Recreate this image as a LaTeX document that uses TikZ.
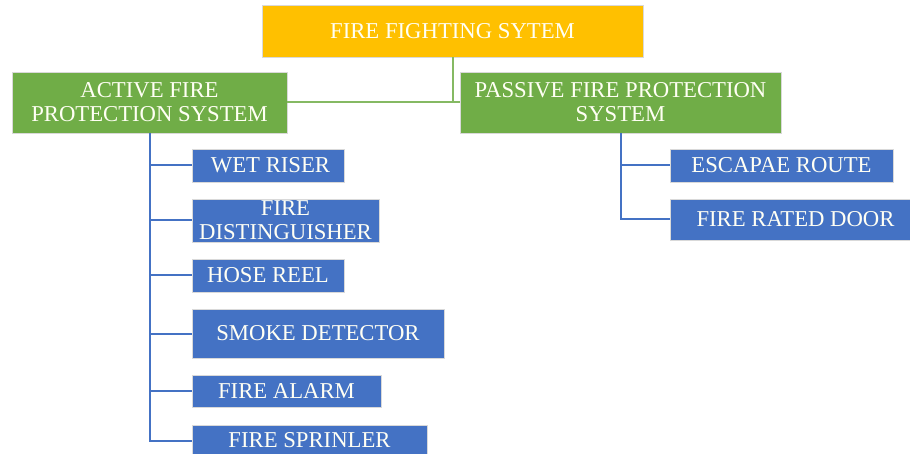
\documentclass[tikz,border=0pt]{standalone}
\usepackage{fontspec}
\setmainfont{Liberation Serif}
\definecolor{hdrgold}{HTML}{FFC000}
\definecolor{grpgreen}{HTML}{70AD47}
\definecolor{itemblue}{HTML}{4472C4}
\definecolor{txtwhite}{HTML}{FFFFF4}
\tikzset{
  box/.style={draw=white!85!black, line width=0.6pt, inner sep=0pt, align=center,
    text=txtwhite, font=\fontsize{22.7}{24}\selectfont},
  headbox/.style={box, fill=hdrgold},
  groupbox/.style={box, fill=grpgreen},
  itembox/.style={box, fill=itemblue},
  greenlink/.style={draw=grpgreen!85!white, line width=2pt},
  bluelink/.style={draw=itemblue, line width=2pt},
}
\begin{document}
\begin{tikzpicture}[x=1pt, y=-1pt]
\useasboundingbox (0,0) rectangle (910,454);
\clip (0,0) rectangle (910,454);
\fill[white] (0,0) rectangle (910,454);

% top level
\node[headbox, minimum width=381pt, minimum height=52pt] (top) at (452.5,31) {FIRE FIGHTING SYTEM};

% the two groups
\node[groupbox, minimum width=275pt, minimum height=61pt] (active) at (149.5,102.5) {ACTIVE FIRE\\PROTECTION SYSTEM};
\node[groupbox, minimum width=321pt, minimum height=61pt] (passive) at (620.5,102.5) {PASSIVE FIRE PROTECTION\\SYSTEM};

% active items
\node[itembox, minimum width=152pt, minimum height=33pt] (wet) at (268,165.5) {\hspace{5pt}WET RISER};
\node[itembox, minimum width=187pt, minimum height=43pt] (dist) at (285.5,220.5) {FIRE\\DISTINGUISHER};
\node[itembox, minimum width=152pt, minimum height=33pt] (hose) at (268,275.5) {HOSE REEL};
\node[itembox, minimum width=252pt, minimum height=49pt] (smoke) at (318,333.5) {SMOKE DETECTOR};
\node[itembox, minimum width=189pt, minimum height=32pt] (alarm) at (286.5,391) {FIRE ALARM};
\node[itembox, minimum width=235pt, minimum height=31pt] (sprinkler) at (309.5,440.5) {FIRE SPRINLER};

% passive items
\node[itembox, minimum width=223pt, minimum height=33pt] (escape) at (781.5,165.5) {ESCAPAE ROUTE};
\node[itembox, minimum width=251pt, minimum height=41pt] (door) at (795.5,219.5) {FIRE RATED DOOR};

% top to groups
\coordinate (joint) at (top.south |- active.east);
\draw[greenlink] (top.south) -- (joint);
\draw[greenlink] (active.east) -- (passive.west);

% group to items
\foreach \n in {wet,dist,hose,smoke,alarm,sprinkler}
  \draw[bluelink] (active.south) |- (\n.west);
\foreach \n in {escape,door}
  \draw[bluelink] (passive.south) |- (\n.west);
\end{tikzpicture}
\end{document}
